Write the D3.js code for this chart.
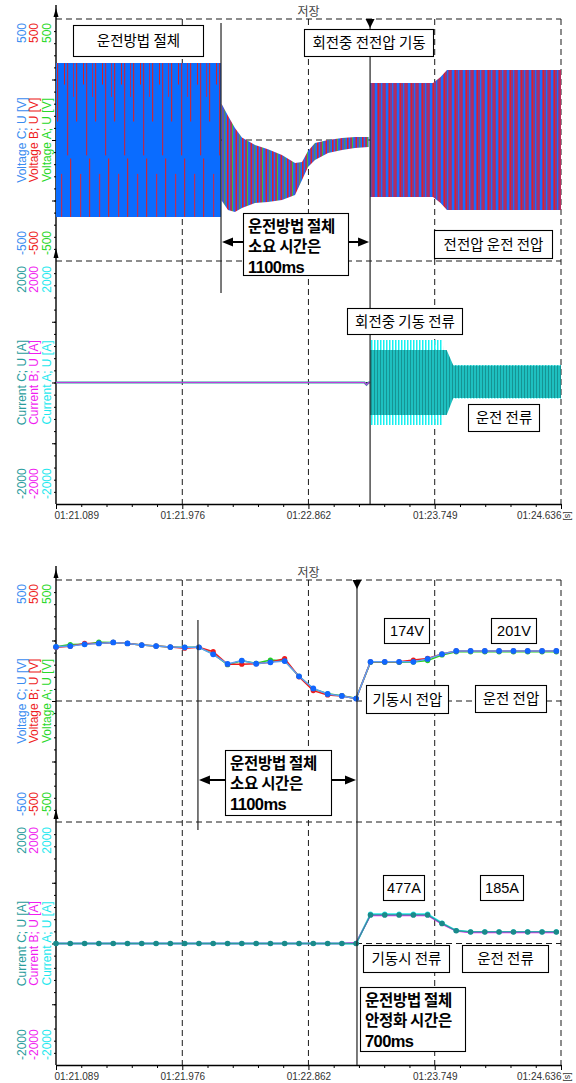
<!DOCTYPE html>
<html><head><meta charset="utf-8">
<script src="https://cdn.jsdelivr.net/npm/d3@7"></script>
<style>
html,body{margin:0;padding:0;background:#fff;}
svg{display:block;}
</style></head><body>
<svg id="c" width="576" height="1083"></svg>
<script>
// ================= DATA =================
const tickTimes  = [81.089, 81.976, 82.862, 83.749, 84.636];
const tickLabels = ["01:21.089","01:21.976","01:22.862","01:23.749","01:24.636"];
const voltTickLabels = [500, -500];
const currTickLabels = [2000, -2000];
const voltSeries = ["Voltage C; U [V]", "Voltage B; U [V]", "Voltage A; U [V]"];
const currSeries = ["Current C; U [A]", "Current B; U [A]", "Current A; U [A]"];

// ---- top chart: raw waveform envelopes (V) ----
const vPreTime   = [81.089, 82.248];
const vPreUpper  = [318, 318];
const vPreLower  = [-318, -318];
const vCoastTime  = [82.252, 82.297, 82.346, 82.395, 82.487, 82.578, 82.676, 82.768, 82.817, 82.859, 82.908, 83.000, 83.098, 83.189, 83.285];
const vCoastUpper = [150, 100, 50, 10, -21, -38, -62, -95, -91, -45, -12, 0, 8, 12, 12];
const vCoastLower = [-250, -289, -298, -281, -260, -256, -248, -227, -165, -112, -83, -54, -41, -33, -29];
const vRunTime  = [83.295, 83.737, 83.790, 83.835, 84.636];
const vRunUpper = [236, 236, 260, 289, 289];
const vRunLower = [-236, -236, -260, -289, -289];

// ---- top chart: raw current envelopes (A) ----
const iIdleTime = [81.089, 83.255, 83.270, 83.285, 83.295];
const iIdleVal  = [0, 0, -35, 0, 0];
const iOuterTime  = [83.295, 83.806, 83.812, 84.636];
const iOuterUpper = [700, 700, 290, 290];
const iOuterLower = [-700, -700, -265, -265];
const iInnerTime  = [83.295, 83.833, 83.880, 84.636];
const iInnerUpper = [535, 535, 280, 280];
const iInnerLower = [-535, -535, -255, -255];

// ---- bottom chart: RMS values ----
const rmsTime = [81.089, 81.189, 81.290, 81.390, 81.491, 81.591, 81.691, 81.792, 81.892, 81.993,
                 82.093, 82.193, 82.294, 82.394, 82.495, 82.595, 82.695, 82.796, 82.896, 82.997,
                 83.097, 83.197, 83.298, 83.398, 83.499, 83.599, 83.699, 83.800, 83.900, 84.001,
                 84.101, 84.201, 84.302, 84.402, 84.503, 84.603];
const rmsVoltA = [224, 233, 234, 243, 242, 238, 231, 227, 223, 222, 222, 195, 150, 166, 156, 169, 166, 102, 50, 30,
                  22, 11, 160, 160, 160, 161, 167, 190, 203, 203, 203, 203, 203, 203, 203, 203];
const rmsVoltB = [222, 226, 238, 238, 242, 238, 231, 227, 223, 218, 222, 204, 152, 152, 154, 160, 175, 100, 43, 25,
                  21, 10, 162, 162, 162, 169, 176, 194, 207, 207, 207, 207, 207, 207, 207, 207];
const rmsVoltC = [224, 227, 234, 238, 242, 238, 231, 227, 223, 222, 222, 193, 153, 167, 154, 160, 165, 102, 52, 29,
                  21, 10, 162, 162, 162, 162, 174, 194, 207, 207, 207, 207, 207, 207, 207, 207];
const rmsCurrA = [0, 0, 0, 0, 0, 0, 0, 0, 0, 0, 0, 0, 0, 0, 0, 0, 0, 0, 0, 0,
                  0, 0, 482, 482, 482, 482, 482, 336, 214, 193, 193, 193, 193, 193, 193, 193];
const rmsCurrB = [0, 0, 0, 0, 0, 0, 0, 0, 0, 0, 0, 0, 0, 0, 0, 0, 0, 0, 0, 0,
                  0, 12, 462, 462, 462, 462, 462, 318, 204, 182, 182, 182, 182, 182, 182, 182];
const rmsCurrC = [0, 0, 0, 0, 0, 0, 0, 0, 0, 0, 0, 0, 0, 0, 0, 0, 0, 0, 0, 0,
                  0, 0, 470, 470, 470, 470, 470, 330, 210, 190, 190, 190, 190, 190, 190, 190];

// event markers (s)
const topEvents = [82.248, 83.295];
const botEvents = [82.086, 83.203];

// ================= STYLE / LAYOUT =================
const FONT  = "'Liberation Sans', Arial, sans-serif";
const KFONT = "'Noto Sans CJK KR', 'Noto Sans', sans-serif";
const DASH = "6,4";
const vColors = ["#3a8cf0", "#ee1c1c", "#2ad82a"];
const cColors = ["#2a9c9c", "#f01cf0", "#1ee8ee"];
const colX = [22, 34, 47];

const svg = d3.select("#c");
svg.append("rect").attr("width", 576).attr("height", 1083).attr("fill", "#fff");
const defs = svg.append("defs");
const x = d3.scaleLinear().domain([tickTimes[0], tickTimes[tickTimes.length - 1]]).range([56, 561]);

function stripePattern(id, w, h, y0, base, stripes) {
  const p = defs.append("pattern").attr("id", id).attr("patternUnits", "userSpaceOnUse")
    .attr("x", 56).attr("y", y0).attr("width", w).attr("height", h);
  if (base) p.append("rect").attr("width", w).attr("height", h).attr("fill", base);
  stripes.forEach(s => p.append("rect").attr("x", s[0]).attr("width", s[1])
    .attr("y", s[2] * h).attr("height", (s[3] - s[2]) * h).attr("fill", s[4]));
}

function makePanel(P) {
  const g = svg.append("g");
  const yV = d3.scaleLinear().domain([-500, 500]).range([P.vBot, P.vTop]);
  const yC = d3.scaleLinear().domain([-2000, 2000]).range([P.cBot, P.vBot]);
  const [x0, x1] = x.range();

  const grid = g.append("g").attr("stroke", "#1a1a1a").attr("stroke-width", 1)
    .attr("stroke-dasharray", DASH).attr("fill", "none");
  [yV(500), yV(0), yC(2000), yC(0)].forEach(yy =>
    grid.append("line").attr("x1", x0).attr("x2", x1).attr("y1", yy).attr("y2", yy));
  tickTimes.slice(1).forEach(t =>
    grid.append("line").attr("x1", x(t)).attr("x2", x(t)).attr("y1", P.vTop).attr("y2", P.cBot));

  const ax = g.append("g").attr("transform", `translate(0,${P.cBot})`)
    .call(d3.axisBottom(x).tickValues(tickTimes).tickSize(5).tickSizeOuter(0)
      .tickFormat((d, i) => tickLabels[i]));
  ax.select(".domain").attr("stroke", "#000").attr("stroke-width", 1.3);
  ax.selectAll(".tick line").attr("stroke", "#000");
  ax.selectAll(".tick text").attr("font-family", FONT).attr("font-size", 10).attr("fill", "#333")
    .attr("text-anchor", (d, i) => i === 0 ? "start" : (i === tickTimes.length - 1 ? "end" : "middle"))
    .attr("dx", (d, i) => i === 0 ? -2 : 0);
  const minor = [];
  for (let i = 0; i < tickTimes.length - 1; i++)
    for (let j = 1; j < 5; j++) minor.push(tickTimes[i] + (tickTimes[i + 1] - tickTimes[i]) * j / 5);
  g.append("g").attr("transform", `translate(0,${P.cBot})`)
    .call(d3.axisBottom(x).tickValues(minor).tickSize(3).tickFormat(""))
    .call(s => s.select(".domain").remove());

  const yt = (scale, vals, size) => g.append("g").attr("transform", `translate(${x0},0)`)
    .call(d3.axisLeft(scale).tickValues(vals).tickSize(size).tickFormat(""))
    .call(s => s.select(".domain").remove());
  yt(yV, d3.range(-450, 451, 50), 2);
  yt(yV, [-250, 0, 250], 4);
  yt(yC, d3.range(-1800, 1801, 200), 2);
  yt(yC, [-1000, 0, 1000], 4);

  g.append("line").attr("x1", x0).attr("x2", x0).attr("y1", P.vTop - 14).attr("y2", P.cBot)
    .attr("stroke", "#000").attr("stroke-width", 1.4);
  [[P.vTop - 11, P.vTop - 2], [P.vBot - 13, P.vBot - 3]].forEach(([tip, base]) =>
    g.append("path").attr("d", `M${x0},${tip}L${x0 - 2.5},${base}L${x0 + 2.5},${base}Z`).attr("fill", "#000"));

  voltSeries.forEach((s, i) => {
    const t = (tx, ty, anchor, txt) => g.append("text")
      .attr("transform", `translate(${tx},${ty}) rotate(-90)`)
      .attr("text-anchor", anchor).attr("dominant-baseline", "central")
      .attr("font-family", FONT).attr("font-size", 12).attr("fill", vColors[i]).text(txt);
    t(colX[i], (P.vTop + P.vBot) / 2, "middle", s);
    t(colX[i], yV(voltTickLabels[0]) + 4, "end", voltTickLabels[0]);
    t(colX[i], yV(voltTickLabels[1]) - 6, "start", voltTickLabels[1]);
  });
  currSeries.forEach((s, i) => {
    const t = (tx, ty, anchor, txt) => g.append("text")
      .attr("transform", `translate(${tx},${ty}) rotate(-90)`)
      .attr("text-anchor", anchor).attr("dominant-baseline", "central")
      .attr("font-family", FONT).attr("font-size", 12).attr("fill", cColors[i]).text(txt);
    t(colX[i], (P.vBot + P.cBot) / 2, "middle", s);
    t(colX[i], yC(currTickLabels[0]) + 5, "end", currTickLabels[0]);
    t(colX[i], yC(currTickLabels[1]) - 5, "start", currTickLabels[1]);
  });

  g.append("text").attr("x", x(tickTimes[2])).attr("y", P.vTop - 3).attr("text-anchor", "middle")
    .attr("font-family", KFONT).attr("font-size", 12).attr("fill", "#444").text("저장");
  g.append("text").attr("transform", `translate(${x1 + 7},${P.cBot + 12}) rotate(90)`)
    .attr("text-anchor", "middle").attr("dominant-baseline", "central")
    .attr("font-family", FONT).attr("font-size", 9).attr("fill", "#333").text("[s]");

  const data = g.append("g");
  const over = g.append("g");
  return { g, data, over, yV, yC };
}

function band(g, times, up, lo, y, fill) {
  const d = times.map((t, i) => ({ t, u: up[i], l: lo[i] }));
  g.append("path").datum(d)
    .attr("d", d3.area().x(v => x(v.t)).y0(v => y(v.l)).y1(v => y(v.u)))
    .attr("fill", fill);
}

function events(P, pan, ev, firstSpan, arrowY) {
  const o = pan.over;
  o.append("line").attr("x1", x(ev[0])).attr("x2", x(ev[0])).attr("y1", firstSpan[0]).attr("y2", firstSpan[1])
    .attr("stroke", "#222").attr("stroke-width", 1.2);
  o.append("line").attr("x1", x(ev[1])).attr("x2", x(ev[1])).attr("y1", P.vTop).attr("y2", P.cBot)
    .attr("stroke", "#222").attr("stroke-width", 1.2);
  o.append("path").attr("d", `M${x(ev[1]) - 4.5},${P.vTop}L${x(ev[1]) + 4.5},${P.vTop}L${x(ev[1])},${P.vTop + 9}Z`).attr("fill", "#000");
  const a = x(ev[0]) + 1, b = x(ev[1]) - 1;
  o.append("line").attr("x1", a + 6).attr("x2", b - 6).attr("y1", arrowY).attr("y2", arrowY)
    .attr("stroke", "#000").attr("stroke-width", 2);
  o.append("path").attr("d", `M${a},${arrowY}L${a + 11},${arrowY - 4.5}L${a + 11},${arrowY + 4.5}Z`).attr("fill", "#000");
  o.append("path").attr("d", `M${b},${arrowY}L${b - 11},${arrowY - 4.5}L${b - 11},${arrowY + 4.5}Z`).attr("fill", "#000");
}

function notes(g, list) {
  list.forEach(n => {
    g.append("rect").attr("x", n.x + 0.5).attr("y", n.y + 0.5).attr("width", n.w).attr("height", n.h)
      .attr("fill", "#fff").attr("stroke", "#000").attr("stroke-width", 1.1);
    n.lines.forEach((ln, i) => {
      const isK = /[가-힣]/.test(ln);
      const t = g.append("text").attr("font-family", isK ? KFONT : FONT).attr("fill", "#000");
      if (n.bold) {
        t.attr("x", n.x + 5).attr("y", n.y + 19 + i * 20.3).attr("font-weight", "bold")
          .attr("font-size", isK ? 15.5 : 16.5).attr("letter-spacing", isK ? -0.3 : -0.6);
      } else {
        t.attr("x", n.x + n.w / 2 + 0.5).attr("y", n.y + n.h / 2 + 5.5).attr("text-anchor", "middle")
          .attr("font-size", 14.5);
      }
      t.text(ln);
    });
  });
}

// ================= TOP CHART =================
const PT = { vTop: 19, vBot: 261, cBot: 504 };
const topP = makePanel(PT);
{
  const yV = topP.yV, yC = topP.yC;
  const bandTop = yV(vPreUpper[0]), bandH = yV(vPreLower[0]) - yV(vPreUpper[0]);
  stripePattern("patL", 19, bandH, bandTop, "#0a6cff", [
    [1, 1.2, 0, 0.38, "#c4283f"], [5, 1.2, 0.72, 1, "#b8305a"], [8, 1, 0, 0.14, "#d02030"],
    [11, 1.2, 0, 0.6, "#b02c55"], [14, 1.2, 0.62, 1, "#c4283f"], [17, 1, 0, 0.22, "#a8306a"]]);
  stripePattern("patM", 15, 400, 0, "#8a3c8c", [
    [0, 1.3, 0, 1, "#e21d2a"], [1.3, 1.2, 0, 1, "#1a6cff"], [3.5, 1, 0, 1, "#2ed42e"],
    [4.5, 1.5, 0, 1, "#1a6cff"], [6, 1, 0, 1, "#e21d2a"], [8, 1.5, 0, 1, "#1a6cff"],
    [9.5, 1, 0, 1, "#e21d2a"], [11, 0.8, 0, 1, "#2ed42e"], [12.2, 1.6, 0, 1, "#1a6cff"]]);
  stripePattern("patR", 11, 400, 0, "#8a3a86", [
    [0, 2, 0, 1, "#1a6cff"], [3, 1, 0, 1, "#e01e2a"], [6, 1.2, 0, 1, "#1a6cff"],
    [8.6, 1, 0, 1, "#d82040"]]);
  stripePattern("patCO", 3, 600, 0, null, [[0, 1.5, 0, 1, "#18f0f0"]]);
  stripePattern("patCI", 3, 600, 0, "#169494", [[1.5, 1, 0, 1, "#26ecec"]]);

  band(topP.data, vPreTime, vPreUpper, vPreLower, yV, "url(#patL)");
  band(topP.data, vCoastTime, vCoastUpper, vCoastLower, yV, "url(#patM)");
  band(topP.data, vRunTime, vRunUpper, vRunLower, yV, "url(#patR)");

  const idle = iIdleTime.map((t, i) => ({ t, v: iIdleVal[i] }));
  const ln = d3.line().x(d => x(d.t)).y(d => yC(d.v));
  topP.data.append("path").datum(idle).attr("d", ln).attr("fill", "none").attr("stroke", cColors[0]).attr("stroke-width", 2.2);
  topP.data.append("path").datum(idle).attr("d", ln).attr("fill", "none").attr("stroke", cColors[1]).attr("stroke-width", 1.2).attr("opacity", 0.75);
  band(topP.data, iOuterTime, iOuterUpper, iOuterLower, yC, "url(#patCO)");
  band(topP.data, iInnerTime, iInnerUpper, iInnerLower, yC, "url(#patCI)");

  events(PT, topP, topEvents, [23, 293], 242);
  notes(topP.over, [
    { x: 73, y: 25, w: 130, h: 31, lines: ["운전방법 절체"] },
    { x: 304, y: 29, w: 129, h: 27, lines: ["회전중 전전압 기동"] },
    { x: 434, y: 230, w: 118, h: 28, lines: ["전전압 운전 전압"] },
    { x: 347, y: 308, w: 115, h: 26, lines: ["회전중 기동 전류"] },
    { x: 468, y: 404, w: 71, h: 27, lines: ["운전 전류"] },
    { x: 243, y: 213, w: 105, h: 62, bold: true, lines: ["운전방법 절체", "소요 시간은", "1100ms"] }
  ]);
}

// ================= BOTTOM CHART =================
const PB = { vTop: 580, vBot: 822, cBot: 1065 };
const botP = makePanel(PB);
{
  const yV = botP.yV, yC = botP.yC;
  const series = (vals, y, lineCol, dotCol, r, w) => {
    const d = rmsTime.map((t, i) => ({ t, v: vals[i] }));
    botP.data.append("path").datum(d).attr("d", d3.line().x(p => x(p.t)).y(p => y(p.v)))
      .attr("fill", "none").attr("stroke", lineCol).attr("stroke-width", w);
    if (dotCol) botP.data.append("g").selectAll("circle").data(d).join("circle")
      .attr("cx", p => x(p.t)).attr("cy", p => y(p.v)).attr("r", r).attr("fill", dotCol);
  };
  series(rmsVoltA, yV, "#22d022", "#22d022", 2.6, 1.5);
  series(rmsVoltB, yV, "#ee1c1c", "#ee1c1c", 2.6, 1.5);
  series(rmsVoltC, yV, "#5c9ef6", "#1066ff", 2.9, 1.5);
  series(rmsCurrA, yC, "#22e8e8", "#22e8e8", 2.6, 1.8);
  series(rmsCurrB, yC, "#f01cf0", null, 0, 1.4);
  series(rmsCurrC, yC, "#2a9c9c", "#1a8a8a", 2.8, 1.3);

  events(PB, botP, botEvents, [620, 830], 780);
  notes(botP.over, [
    { x: 384, y: 618, w: 45, h: 25, lines: ["174V"] },
    { x: 491, y: 618, w: 45, h: 25, lines: ["201V"] },
    { x: 366, y: 685, w: 82, h: 28, lines: ["기동시 전압"] },
    { x: 475, y: 685, w: 71, h: 27, lines: ["운전 전압"] },
    { x: 225, y: 750, w: 106, h: 65, bold: true, lines: ["운전방법 절체", "소요 시간은", "1100ms"] },
    { x: 383, y: 875, w: 41, h: 25, lines: ["477A"] },
    { x: 480, y: 875, w: 43, h: 25, lines: ["185A"] },
    { x: 363, y: 945, w: 86, h: 27, lines: ["기동시 전류"] },
    { x: 462, y: 945, w: 86, h: 27, lines: ["운전 전류"] },
    { x: 360, y: 987, w: 105, h: 64, bold: true, lines: ["운전방법 절체", "안정화 시간은", "700ms"] }
  ]);
}
</script>
</body></html>
